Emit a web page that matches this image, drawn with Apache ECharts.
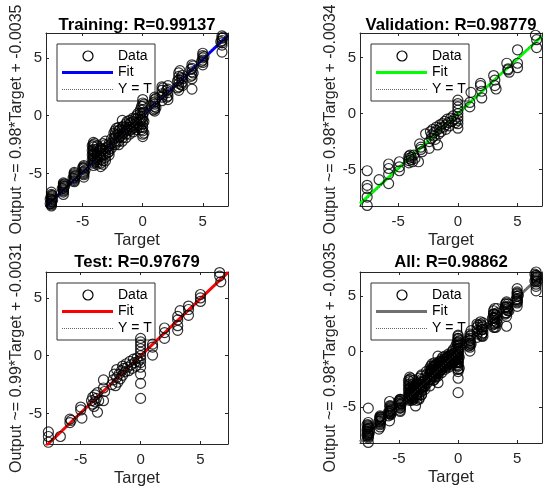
<!DOCTYPE html>
<html><head><meta charset="utf-8">
<script src="https://cdn.jsdelivr.net/npm/echarts@6/dist/echarts.min.js"></script>
<style>html,body{margin:0;padding:0;background:#fff}#c{width:550px;height:490px}</style>
</head><body><div id="c"></div>
<script>
// ---------------- DATA ----------------
const titles = ['Training: R=0.99137', 'Validation: R=0.98779', 'Test: R=0.97679', 'All: R=0.98862'];
const yLabels = ['Output ~= 0.98*Target + -0.0035', 'Output ~= 0.98*Target + -0.0034',
                 'Output ~= 0.99*Target + -0.0031', 'Output ~= 0.98*Target + -0.0035'];
const xLabel = 'Target';
const legendLabels = ['Data', 'Fit', 'Y = T'];
const tickValues = [-5, 0, 5];

const xRanges = [[-8.05, 7.1], [-8.2, 7.05], [-7.9, 7.3], [-8.3, 7.1]];
const yRanges = [[-7.8, 7.15], [-8.25, 7.2], [-7.65, 7.25], [-8.25, 7.2]];

const trainData = [
  [-7.6,-6.6],[-7.6,-6.8],[-7.6,-6.9],[-7.6,-7.0],[-7.6,-7.1],[-7.6,-7.2],[-7.6,-7.3],[-7.6,-7.4],[-7.6,-7.5],[-7.6,-7.6],[-7.6,-7.7],[-7.6,-7.8],
  [-7.5,-6.9],[-7.5,-7.3],[-7.7,-7.2],[-7.7,-7.6],
  [-6.6,-5.8],[-6.6,-5.9],[-6.6,-6.0],[-6.6,-6.1],[-6.6,-6.2],[-6.6,-6.3],[-6.6,-6.4],[-6.6,-6.5],[-6.6,-6.6],[-6.6,-6.8],
  [-6.5,-6.1],[-6.7,-6.3],[-6.5,-5.9],
  [-5.7,-4.9],[-5.7,-5.0],[-5.7,-5.1],[-5.7,-5.2],[-5.7,-5.3],[-5.7,-5.4],[-5.7,-5.5],[-5.7,-5.6],[-5.7,-5.7],
  [-5.6,-5.2],[-5.8,-5.4],
  [-4.9,-4.3],[-4.9,-4.4],[-4.9,-4.5],[-4.9,-4.6],[-4.9,-4.8],[-4.9,-4.9],[-4.9,-5.0],[-4.9,-5.1],[-4.9,-5.3],
  [-4.8,-4.7],[-5.0,-4.5],
  [-4.1,-2.3],[-4.1,-2.5],[-4.1,-2.7],[-4.1,-2.9],[-4.1,-3.1],[-4.1,-3.3],[-4.1,-3.5],[-4.1,-3.7],[-4.1,-3.9],[-4.1,-4.1],[-4.1,-4.3],
  [-4.2,-2.6],[-4.2,-3.0],[-4.2,-3.4],[-4.2,-3.8],[-4.0,-2.4],[-4.0,-3.2],[-4.0,-3.6],[-4.0,-4.0],
  [-3.8,-2.6],[-3.8,-2.9],[-3.8,-3.2],[-3.8,-3.4],[-3.8,-3.6],[-3.8,-3.8],[-3.8,-4.0],[-3.8,-4.2],
  [-3.5,-2.8],[-3.5,-3.0],[-3.5,-3.3],[-3.5,-3.5],[-3.5,-3.8],[-3.5,-4.1],[-3.5,-4.4],
  [-3.3,-2.4],[-3.3,-2.9],[-3.3,-3.4],[-3.3,-3.9],[-3.3,-4.2],
  [-3.1,-2.2],[-3.1,-2.5],[-3.1,-2.8],[-3.1,-3.0],[-3.1,-3.3],[-3.1,-3.6],[-3.1,-3.9],
  [-2.9,-2.7],[-2.9,-3.2],
  [-2.8,-2.4],[-2.8,-2.6],[-2.8,-2.9],[-2.8,-3.1],[-2.8,-3.4],
  [-2.6,-2.0],[-2.6,-2.4],[-2.6,-2.8],
  [-2.4,-1.5],[-2.4,-2.0],
  [-2.3,-1.3],[-2.3,-1.6],[-2.3,-1.9],[-2.3,-2.2],[-2.3,-2.5],
  [-2.2,-1.1],[-2.2,-1.7],[-2.2,-2.3],
  [-2.0,-1.0],[-2.0,-1.3],[-2.0,-1.6],[-2.0,-1.9],[-2.0,-2.2],[-2.0,-2.5],
  [-1.9,-1.2],[-1.9,-1.8],
  [-1.7,-0.4],[-1.7,-1.0],[-1.7,-1.3],[-1.7,-1.6],[-1.7,-1.9],[-1.7,-2.2],
  [-1.6,-0.9],[-1.6,-1.5],
  [-1.4,-0.7],[-1.4,-1.0],[-1.4,-1.3],[-1.4,-1.6],[-1.4,-1.9],
  [-1.3,-0.5],[-1.3,-1.2],
  [-1.1,-0.4],[-1.1,-0.7],[-1.1,-1.0],[-1.1,-1.3],[-1.1,-1.6],
  [-1.0,-0.6],[-1.0,-1.2],
  [-0.8,-0.2],[-0.8,-0.5],[-0.8,-0.8],[-0.8,-1.1],[-0.8,-1.4],
  [-0.7,-0.3],[-0.7,-1.0],
  [-0.5,0.0],[-0.5,-0.3],[-0.5,-0.6],[-0.5,-0.9],[-0.5,-1.2],
  [-0.4,0.2],[-0.4,-0.8],
  [-0.2,0.5],[-0.2,0.2],[-0.2,-0.1],[-0.2,-0.4],[-0.2,-0.7],[-0.2,-1.0],
  [-0.1,0.8],[-0.1,-0.3],[-0.1,-1.2],
  [0,1.4],[0,1.1],[0,0.8],[0,0.5],[0,0.2],[0,-0.1],[0,-0.4],[0,-0.7],[0,-1.0],[0,-1.3],[0,-1.6],[0,-1.8],
  [0.1,1.0],[0.1,0.3],[0.1,-0.5],[0.1,-1.5],
  [1.0,0.4],[1.0,0.6],[1.0,0.8],[1.0,1.0],[1.0,1.2],[1.0,1.4],[1.0,1.6],
  [0.9,0.5],[0.9,1.1],[1.1,0.7],[1.1,1.5],
  [1.6,1.3],[1.6,1.6],[1.6,1.9],[1.6,2.2],[1.6,2.5],
  [1.7,1.8],[1.7,2.4],
  [2.1,1.4],[2.1,1.7],[2.1,2.0],[2.1,2.3],[2.1,2.6],
  [2.0,1.6],[2.0,2.2],
  [3.0,2.2],[3.0,2.5],[3.0,2.8],[3.0,3.1],[3.0,3.4],[3.0,3.7],
  [2.9,2.4],[2.9,3.0],[3.2,3.3],[3.2,2.7],[3.1,3.9],
  [3.3,2.6],[3.3,2.9],[3.3,3.2],[3.3,3.5],
  [4.1,2.3],[4.1,3.2],[4.1,3.5],[4.1,3.8],[4.1,4.1],[4.1,4.4],
  [4.0,3.4],[4.0,4.0],[4.2,3.7],[4.2,4.3],
  [5.0,4.4],[5.0,4.6],[5.0,4.8],[5.0,5.0],[5.0,5.2],[5.0,5.4],
  [4.9,4.7],[5.1,5.1],
  [6.6,5.5],[6.6,6.1],[6.6,6.3],[6.6,6.5],[6.6,6.7],[6.6,6.9],
  [6.5,6.4],[6.7,6.8]
];

const valData = [
  [-7.6,-5.1],[-7.6,-6.4],[-7.6,-6.7],[-7.6,-7.45],[-7.6,-8.2],
  [-6.6,-5.9],
  [-5.8,-4.5],[-5.8,-4.9],[-5.8,-5.4],[-5.8,-6.25],
  [-4.9,-4.3],[-4.9,-4.75],[-4.9,-5.1],
  [-4.1,-3.8],[-4.1,-4.0],[-4.1,-4.2],[-4.1,-4.4],[-4.0,-3.7],[-3.9,-3.9],[-3.9,-4.1],[-3.8,-4.3],[-3.7,-3.7],[-3.6,-4.0],
  [-3.3,-4.3],[-3.2,-2.7],[-3.1,-3.0],[-3.1,-3.2],[-3.0,-3.4],
  [-2.7,-1.8],[-2.4,-2.5],[-2.4,-3.1],
  [-2.3,-1.6],[-2.2,-1.9],[-2.2,-2.2],[-2.1,-1.4],[-2.0,-1.7],[-2.0,-2.0],[-1.9,-2.3],[-1.8,-1.2],[-1.8,-1.5],[-1.7,-2.8],
  [-1.6,-1.8],[-1.5,-1.0],[-1.5,-1.3],[-1.4,-1.6],[-1.3,-0.9],[-1.2,-1.2],[-1.1,-0.7],[-1.0,-1.0],[-1.0,-1.4],[-0.9,-0.5],
  [-0.8,-0.8],[-0.7,-1.1],[-0.6,-0.4],[-0.5,-0.7],[-0.4,-0.2],[-0.3,-0.5],[-0.2,-0.8],
  [0,1.2],[0,0.9],[0,0.6],[0,0.3],[0,0.0],[0,-0.3],[0,-0.6],[0,-0.9],[0,-1.3],
  [1.0,1.0],[1.0,0.6],[1.1,1.9],[1.9,2.7],[1.9,2.5],[2.0,2.0],[2.0,1.4],
  [3.0,3.4],[3.1,3.0],[3.1,2.5],[3.2,2.2],
  [4.1,4.5],[4.2,4.0],[4.2,3.9],[4.3,3.7],
  [5.0,5.7],[5.0,4.5],[5.0,4.1],
  [6.5,7.0],[6.6,6.6],[6.6,5.9]
];

const testData = [
  [-7.7,-6.6],[-7.7,-7.0],[-7.7,-7.5],
  [-6.7,-7.0],
  [-5.9,-5.5],[-5.9,-5.8],[-5.8,-5.6],
  [-5.0,-4.45],[-5.0,-4.7],[-4.9,-5.4],
  [-4.1,-3.9],[-4.0,-4.2],[-4.0,-3.6],[-3.9,-4.4],[-3.8,-3.4],[-3.8,-4.0],[-3.7,-3.7],[-3.6,-4.9],[-3.6,-3.2],[-3.5,-3.9],
  [-3.1,-2.1],[-3.1,-2.8],[-3.0,-3.1],[-3.1,-3.9],
  [-2.4,-2.5],[-2.3,-2.1],[-2.2,-1.6],[-2.1,-2.6],[-2.0,-1.9],[-2.0,-1.2],[-1.9,-2.3],[-1.8,-1.6],[-1.7,-2.0],[-1.6,-1.3],
  [-1.5,-0.9],[-1.5,-1.7],[-1.4,-1.1],[-1.3,-1.4],[-1.2,-0.7],[-1.1,-1.0],[-1.0,-1.3],[-0.9,-0.5],[-0.8,-0.8],[-0.7,-1.1],
  [-0.6,-0.3],[-0.5,-0.6],[-0.4,-0.9],[-0.3,-0.2],[-0.2,-0.5],
  [0,1.5],[0,1.2],[0,0.9],[0,0.6],[0,0.3],[0,0.0],[0,-0.3],[0,-0.6],[0,-1.0],[0,-1.6],[0,-2.4],[0,-3.7],
  [1.0,0.75],[1.0,0.05],[1.0,1.0],
  [2.0,2.4],[2.0,2.0],[2.0,1.5],
  [3.1,3.4],[3.1,3.1],[3.1,2.6],[3.1,2.2],[3.3,3.9],
  [4.0,4.3],[4.0,4.0],[4.0,3.5],
  [5.0,5.3],[5.0,5.0],[5.0,4.7],
  [6.6,7.2],[6.6,6.9],[6.7,6.4]
];

const allData = [].concat(trainData, valData, testData);
const panelData = [trainData, valData, testData, allData];

// fit line endpoints (Output ~= a*Target + b), read at the axis limits
const fitLines = [
  [[-8.05,-7.89],[7.1,6.95]],
  [[-8.2,-8.04],[7.05,6.91]],
  [[-7.9,-7.82],[7.3,7.22]],
  [[-8.3,-8.14],[7.1,6.95]]
];
const identityLines = [
  [[-8.05,-8.05],[7.1,7.1]],
  [[-8.25,-8.25],[7.2,7.2]],
  [[-7.9,-7.9],[7.3,7.3]],
  [[-8.3,-8.3],[7.2,7.2]]
];

// ---------------- LAYOUT / STYLE ----------------
const FONT = "'Liberation Sans', Arial, Helvetica, sans-serif";
const AX = '#262626';
const fitColors = ['#0000ff', '#00ff00', '#ff0000', '#707070'];
const grids = [
  {left: 46, top: 33, width: 182, height: 173},
  {left: 360, top: 33, width: 182, height: 173},
  {left: 46, top: 272, width: 182, height: 172},
  {left: 360, top: 272, width: 182, height: 171}
];
const titleTops = [17, 17, 254, 254];

const xAxes = [], yAxes = [], series = [], titleArr = [], graphics = [];
grids.forEach((g, i) => {
  const common = {
    type: 'value', gridIndex: i, minInterval: 5, maxInterval: 5, splitNumber: 3,
    splitLine: {show: false},
    axisLine: {show: true, onZero: false, lineStyle: {color: AX, width: 1}},
    axisTick: {show: true, inside: true, length: 3, customValues: tickValues, lineStyle: {color: AX}}
  };
  xAxes.push(Object.assign({}, common, {
    position: 'bottom', min: xRanges[i][0], max: xRanges[i][1],
    name: xLabel, nameLocation: 'middle', nameGap: 26,
    nameTextStyle: {fontFamily: FONT, fontSize: 16.5, color: AX},
    axisLabel: {customValues: tickValues, margin: 8, fontFamily: FONT, fontSize: 15, color: AX}
  }));
  xAxes.push(Object.assign({}, common, {
    position: 'top', min: xRanges[i][0], max: xRanges[i][1], axisLabel: {show: false}
  }));
  yAxes.push(Object.assign({}, common, {
    position: 'left', min: yRanges[i][0], max: yRanges[i][1],
    name: yLabels[i], nameLocation: 'middle', nameGap: 21,
    nameTextStyle: {fontFamily: FONT, fontSize: 16, color: AX},
    axisLabel: {customValues: tickValues, margin: 4, fontFamily: FONT, fontSize: 15, color: AX}
  }));
  yAxes.push(Object.assign({}, common, {
    position: 'right', min: yRanges[i][0], max: yRanges[i][1], axisLabel: {show: false}
  }));

  series.push({
    type: 'line', xAxisIndex: 2 * i, yAxisIndex: 2 * i, data: fitLines[i],
    showSymbol: false, silent: true, z: 2, clip: true,
    lineStyle: {color: fitColors[i], width: 3}
  });
  series.push({
    type: 'scatter', xAxisIndex: 2 * i, yAxisIndex: 2 * i, data: panelData[i],
    symbol: 'circle', symbolSize: 10, silent: true, z: 3,
    itemStyle: {color: 'rgba(0,0,0,0)', borderColor: '#000', borderWidth: 1.2}
  });
  series.push({
    type: 'line', xAxisIndex: 2 * i, yAxisIndex: 2 * i, data: identityLines[i],
    showSymbol: false, silent: true, z: 4, clip: true,
    lineStyle: {color: '#555', width: 1, type: [1, 2]}
  });

  titleArr.push({
    text: titles[i], left: g.left + g.width / 2, top: titleTops[i], textAlign: 'center', padding: 0,
    textStyle: {fontFamily: FONT, fontSize: 16.7, fontWeight: 'bold', color: '#000'}
  });

  const lx = g.left + 11, ly = g.top + 11;
  graphics.push({
    type: 'group', x: lx, y: ly, z: 100, silent: true,
    children: [
      {type: 'rect', shape: {x: 0, y: 0, width: 98, height: 57}, style: {fill: '#fff', stroke: '#333', lineWidth: 1}},
      {type: 'circle', shape: {cx: 31, cy: 12, r: 5}, style: {fill: 'none', stroke: '#000', lineWidth: 1.2}},
      {type: 'line', shape: {x1: 5, y1: 28.5, x2: 56, y2: 28.5}, style: {stroke: fitColors[i], lineWidth: 3}},
      {type: 'line', shape: {x1: 5, y1: 45.5, x2: 56, y2: 45.5}, style: {stroke: '#666', lineWidth: 1, lineDash: [1, 1]}},
      {type: 'text', x: 61, y: 12, style: {text: legendLabels[0], font: '14px ' + FONT, fill: '#000', verticalAlign: 'middle'}},
      {type: 'text', x: 61, y: 28.5, style: {text: legendLabels[1], font: '14px ' + FONT, fill: '#000', verticalAlign: 'middle'}},
      {type: 'text', x: 61, y: 45.5, style: {text: legendLabels[2], font: '14px ' + FONT, fill: '#000', verticalAlign: 'middle'}}
    ]
  });
});

const chart = echarts.init(document.getElementById('c'), null, {renderer: 'canvas'});
chart.setOption({
  animation: false,
  backgroundColor: '#fff',
  title: titleArr,
  grid: grids,
  xAxis: xAxes,
  yAxis: yAxes,
  series: series,
  graphic: graphics
});
</script></body></html>
